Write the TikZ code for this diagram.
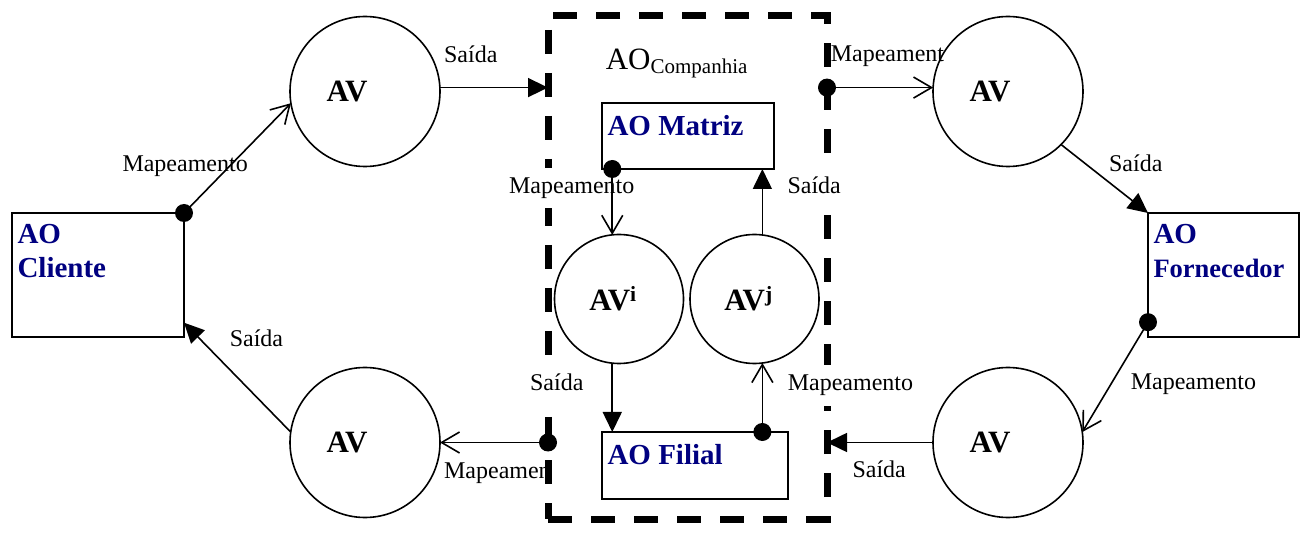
\documentclass[tikz,border=0pt]{standalone}
\usepackage{fontspec}
\setmainfont{Liberation Serif}
\usetikzlibrary{arrows.meta,calc}
\definecolor{aoblue}{RGB}{0,0,128}

\begin{document}
\begin{tikzpicture}[x=1pt,y=-1pt,line width=1.6pt,
  avnode/.style={draw,circle,minimum size=150pt,inner sep=0pt,outer sep=0pt,
    font=\fontsize{31}{31}\selectfont\bfseries},
  avinner/.style={avnode,minimum size=129pt},
  aobox/.style={draw,rectangle,inner sep=0pt,outer sep=0pt},
  aotext/.style={text=aoblue,font=\fontsize{29}{34}\selectfont\bfseries,
    align=left,inner xsep=4.7pt,inner ysep=11pt,anchor=north west},
  compbox/.style={draw,rectangle,line width=7pt,dash pattern=on 24pt off 19pt,
    minimum width=279pt,minimum height=503pt,outer sep=0pt,inner sep=0pt},
  lbl/.style={font=\fontsize{24}{24}\selectfont,inner sep=0pt,anchor=base west},
  lblw/.style={lbl,fill=white,inner xsep=0pt,inner ysep=10pt},
  mapto/.style={-{Straight Barb[length=18pt,width=21pt]}},
  outto/.style={-{Triangle[length=20pt,width=19pt]}},
  dotr/.style={radius=9pt}
]
\useasboundingbox (0,0) rectangle (1304,534);

% company boundary and its title
\node[compbox] (comp) at (687.5,267.5) {};
\node[anchor=base west,inner sep=0pt,font=\fontsize{31}{31}\selectfont] (compt) at (605,69.3)
  {AO\raisebox{-4pt}{\fontsize{21}{21}\selectfont Companhia}};

% labels that sit over the boundary line
\node[lblw] (l4) at (508.3,193.3) {Mapeamento};
\node[lblw] (l5) at (786.7,193.3) {Saída};
\node[lblw] (l6) at (529.3,390.7) {Saída};
\node[lblw] (l7) at (787,390.7) {Mapeamento};

% organisation boxes
\node[aobox,minimum width=172pt,minimum height=124pt] (cli) at (98,275) {};
\node[aotext] (clit) at (cli.north west) {AO\\Cliente};
\node[aobox,minimum width=151pt,minimum height=124pt] (forn) at (1223.5,275) {};
\node[aotext] (fornt) at (forn.north west) {AO\\{\fontsize{26.5}{34}\selectfont Fornecedor}};
\node[aobox,minimum width=172pt,minimum height=66pt] (mat) at (688,136) {};
\node[aotext,inner ysep=12pt] (matt) at (mat.north west) {AO Matriz};
\node[aobox,minimum width=186pt,minimum height=67pt] (fil) at (695,465.5) {};
\node[aotext,inner ysep=12pt] (filt) at (fil.north west) {AO Filial};

% value-adding circles
\node[avnode] (av1) at (365,91.5) {AV\hspace*{36pt}};
\node[avnode] (av2) at (365,442.5) {AV\hspace*{36pt}};
\node[avnode] (av3) at (1008,91.5) {AV\hspace*{36pt}};
\node[avnode] (av4) at (1008,442.5) {AV\hspace*{36pt}};
\node[avinner] (avi) at (619,299) {AV\textsuperscript{i}\hspace*{12pt}};
\node[avinner] (avj) at (754.5,299) {AV\textsuperscript{j}\hspace*{12pt}};

% outer connectors
\draw[mapto] (cli.north east) -- (av1.189);
\fill (cli.north east) circle[dotr];
\draw[outto] (av2.172) -- (cli.-29.2);
\draw[outto] (av1.3) -- (av1.3 -| comp.west);
\draw[mapto] (av3.177 -| comp.east) -- (av3.177);
\fill (av3.177 -| comp.east) circle[dotr];
\draw[outto] (av3.-45.8) -- (forn.north west);
\draw[mapto] (forn.212.45) -- (av4.8);
\fill (forn.212.45) circle[dotr];
\draw[outto] (av4.180) -- (av4.180 -| comp.east);
\draw[mapto] (av2.0 -| comp.west) -- (av2.0);
\fill (av2.0 -| comp.west) circle[dotr];

% inner connectors
\draw[mapto] (avi.96 |- mat.south) -- (avi.96);
\fill (avi.96 |- mat.south) circle[dotr];
\draw[outto] (avi.264) -- (avi.264 |- fil.north);
\draw[outto] (avj.83.3) -- (avj.83.3 |- mat.south);
\draw[mapto] (avj.-83.3 |- fil.north) -- (avj.-83.3);
\fill (avj.-83.3 |- fil.north) circle[dotr];

% connector labels
\node[lbl] (l1) at (121.7,171.7) {Mapeamento};
\node[lbl] (l2) at (229,347) {Saída};
\node[lbl] (l3) at (443.3,62.3) {Saída};
\node[lbl] (l8) at (443.3,478.3) {Mapeamen};
\node[lbl] (l9) at (830,61.7) {Mapeament};
\node[lbl] (l10) at (1108.3,171.7) {Saída};
\node[lbl] (l11) at (1130,390) {Mapeamento};
\node[lbl] (l12) at (851.7,477.7) {Saída};
\end{tikzpicture}
\end{document}
